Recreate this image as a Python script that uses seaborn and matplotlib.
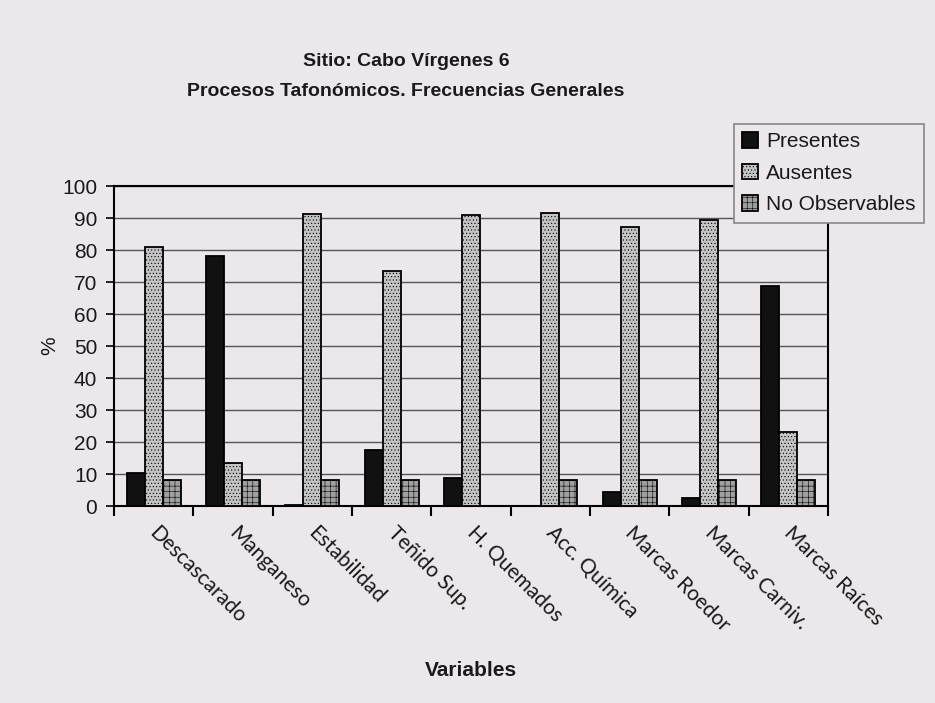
import matplotlib
matplotlib.use("Agg")
import matplotlib.pyplot as plt
from matplotlib.patches import Patch
from matplotlib.transforms import ScaledTranslation
import seaborn as sns
import pandas as pd
import numpy as np

categories = ["Descascarado", "Manganeso", "Estabilidad", "Teñido Sup.", "H. Quemados",
              "Acc. Química", "Marcas Roedor", "Marcas Carniv.", "Marcas Raíces"]
series = ["Presentes", "Ausentes", "No Observables"]
presentes = [10.3, 78.0, 0.2, 17.6, 8.9, 0.0, 4.4, 2.5, 68.7]
ausentes = [80.8, 13.3, 91.3, 73.5, 91.0, 91.5, 87.2, 89.5, 23.2]
no_observables = [8.2, 8.2, 8.2, 8.2, 0.0, 8.2, 8.2, 8.2, 8.2]
yticks = list(range(0, 101, 10))

df = pd.DataFrame({
    "Variable": categories * 3,
    "Serie": [series[0]] * 9 + [series[1]] * 9 + [series[2]] * 9,
    "Valor": presentes + ausentes + no_observables,
})

sns.set_theme(style="white")
bg = "#ece7ea"
plt.rcParams["font.family"] = ["Liberation Sans", "DejaVu Sans"]
plt.rcParams["hatch.linewidth"] = 0.4

fig = plt.figure(figsize=(9.35, 7.03), dpi=100, facecolor=bg)
ax = fig.add_axes([0.1219, 0.2802, 0.7637, 0.4552])
ax.set_facecolor(bg)

face = ["#111111", "#c4c4c4", "#a0a0a0"]
hatches = [None, ".....", "+++"]

sns.barplot(data=df, x="Variable", y="Valor", hue="Serie", hue_order=series,
            order=categories, palette=face, width=0.68, edgecolor="black",
            linewidth=1.3, saturation=1, legend=False, ax=ax, zorder=3)
for cont, h in zip(ax.containers, hatches):
    for bar in cont:
        if h:
            bar.set_hatch(h)

ax.set_ylim(0, 100)
ax.set_xlim(-0.5, len(categories) - 0.5)
ax.set_yticks(yticks)
ax.set_yticklabels([str(t) for t in yticks], fontsize=15, color="#1a1a1a")
ax.yaxis.grid(True, color="#555555", linewidth=1.0, zorder=0)
ax.set_axisbelow(True)

ax.set_xticks(np.arange(-0.5, len(categories), 1.0))
ax.set_xticklabels([])
ax.set_xticks(np.arange(len(categories)), minor=True)
ax.set_xticklabels(categories, minor=True, rotation=-45, ha="left", va="top",
                   rotation_mode="anchor", fontsize=15, family=["Lato", "DejaVu Sans"],
                   color="#1a1a1a")
ax.tick_params(axis="x", which="major", length=7, width=1.5, color="black", direction="out", bottom=True)
ax.tick_params(axis="x", which="minor", length=0, pad=12)
ax.tick_params(axis="y", length=6, width=1.2, color="black", direction="out", left=True, pad=6)
offset = ScaledTranslation(6 / 100, 0, fig.dpi_scale_trans)
for lab in ax.xaxis.get_minorticklabels():
    lab.set_transform(lab.get_transform() + offset)

for s in ax.spines.values():
    s.set_color("black")
    s.set_linewidth(1.5)

ax.set_xlabel("Variables", fontsize=15, fontweight="bold", color="#1a1a1a")
ax.xaxis.set_label_coords(0.5, -0.485)
ax.set_ylabel("%", fontsize=15, color="#1a1a1a")
ax.yaxis.set_label_coords(-0.077, 0.5)

fig.text(406 / 935, 1 - 62 / 703, "Sitio: Cabo Vírgenes 6", ha="center", va="center",
         fontsize=14, fontweight="bold", color="#1a1a1a")
fig.text(406 / 935, 1 - 92 / 703, "Procesos Tafonómicos. Frecuencias Generales", ha="center",
         va="center", fontsize=14, fontweight="bold", color="#1a1a1a")

handles = [Patch(facecolor=f, edgecolor="black", hatch=h, linewidth=1.3, label=s)
           for f, h, s in zip(face, hatches, series)]
leg = ax.legend(handles=handles, loc="upper left", bbox_to_anchor=(734 / 935, 1 - 124 / 703),
                bbox_transform=fig.transFigure, fontsize=15, frameon=True, fancybox=False,
                handlelength=0.75, handleheight=0.75, handletextpad=0.4, labelspacing=0.6,
                borderpad=0.4, borderaxespad=0)
leg.get_frame().set_facecolor(bg)
leg.get_frame().set_edgecolor("#888888")
leg.get_frame().set_linewidth(1.2)
leg.get_frame().set_alpha(1)
leg.set_zorder(10)
for t in leg.get_texts():
    t.set_color("#1a1a1a")

fig.savefig("out.png", dpi=100, facecolor=bg)
